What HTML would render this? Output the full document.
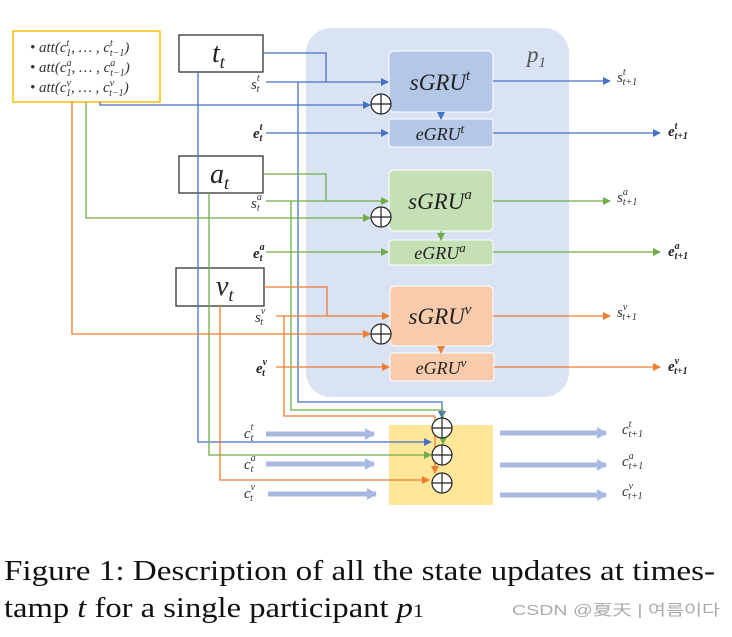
<!DOCTYPE html>
<html><head><meta charset="utf-8"><style>
html,body{margin:0;padding:0;background:#fff;}
svg{display:block}
.m{font-family:"Liberation Serif",serif;font-style:italic;}
.b{font-weight:bold}
</style></head><body>
<svg width="732" height="637" viewBox="0 0 732 637" xmlns="http://www.w3.org/2000/svg">
<defs>
<marker id="ab" markerWidth="8" markerHeight="8" refX="7" refY="4" orient="auto" markerUnits="userSpaceOnUse"><path d="M0,0 L8,4 L0,8z" fill="#4472c4"/></marker>
<marker id="ag" markerWidth="8" markerHeight="8" refX="7" refY="4" orient="auto" markerUnits="userSpaceOnUse"><path d="M0,0 L8,4 L0,8z" fill="#70ad47"/></marker>
<marker id="ao" markerWidth="8" markerHeight="8" refX="7" refY="4" orient="auto" markerUnits="userSpaceOnUse"><path d="M0,0 L8,4 L0,8z" fill="#ed7d31"/></marker>
<marker id="ac" markerWidth="10" markerHeight="12" refX="9" refY="6" orient="auto" markerUnits="userSpaceOnUse"><path d="M0,0 L10,6 L0,12z" fill="#a8b8e0"/></marker>
</defs>
<rect x="306" y="28" width="263" height="369" rx="25" fill="#dae3f3"/>
<text x="527" y="62" class="m" font-size="23" fill="#555">p<tspan font-size="15" dy="5">1</tspan></text>
<rect x="389" y="425" width="104" height="80" fill="#ffe699"/>
<rect x="389" y="51" width="104" height="61" rx="5" fill="#b4c7e7" stroke="#fff"/>
<rect x="389" y="119" width="104" height="28" rx="3" fill="#b4c7e7" stroke="#fff"/>
<rect x="389" y="170" width="104" height="61" rx="5" fill="#c5e0b4" stroke="#fff"/>
<rect x="389" y="240" width="104" height="25" rx="3" fill="#c5e0b4" stroke="#fff"/>
<rect x="390" y="286" width="103" height="60" rx="5" fill="#f8cbad" stroke="#fff"/>
<rect x="390" y="353" width="104" height="28" rx="3" fill="#f8cbad" stroke="#fff"/>
<g class="m" font-size="23" fill="#222" text-anchor="middle">
<text x="440" y="90">sGRU<tspan font-size="15" dy="-10">t</tspan></text>
<text x="440" y="209">sGRU<tspan font-size="15" dy="-10">a</tspan></text>
<text x="440" y="324">sGRU<tspan font-size="15" dy="-10">v</tspan></text>
</g>
<g class="m" font-size="18" fill="#222" text-anchor="middle">
<text x="440" y="140">eGRU<tspan font-size="13" dy="-7">t</tspan></text>
<text x="440" y="259">eGRU<tspan font-size="13" dy="-7">a</tspan></text>
<text x="441" y="374">eGRU<tspan font-size="13" dy="-7">v</tspan></text>
</g>
<rect x="13" y="31" width="147" height="71" fill="#fff" stroke="#ffc000" stroke-width="1.5"/>
<g class="m" font-size="15" fill="#333">
<text x="30" y="52">• att(c<tspan font-size="10" dy="-6">t</tspan><tspan font-size="10" dx="-3" dy="10">1</tspan><tspan dy="-4">, … , c</tspan><tspan font-size="10" dy="-6">t</tspan><tspan font-size="10" dx="-3" dy="10">t−1</tspan><tspan dy="-4">)</tspan></text>
<text x="30" y="72">• att(c<tspan font-size="10" dy="-6">a</tspan><tspan font-size="10" dx="-5" dy="10">1</tspan><tspan dy="-4">, … , c</tspan><tspan font-size="10" dy="-6">a</tspan><tspan font-size="10" dx="-5" dy="10">t−1</tspan><tspan dy="-4">)</tspan></text>
<text x="30" y="92">• att(c<tspan font-size="10" dy="-6">v</tspan><tspan font-size="10" dx="-5" dy="10">1</tspan><tspan dy="-4">, … , c</tspan><tspan font-size="10" dy="-6">v</tspan><tspan font-size="10" dx="-5" dy="10">t−1</tspan><tspan dy="-4">)</tspan></text>
</g>
<rect x="179" y="35" width="84" height="37" fill="#fff" stroke="#333" stroke-width="1.3"/>
<rect x="179" y="156" width="84" height="37" fill="#fff" stroke="#333" stroke-width="1.3"/>
<rect x="176" y="268" width="88" height="38" fill="#fff" stroke="#333" stroke-width="1.3"/>
<g class="m" font-size="28" fill="#222">
<text x="212" y="62">t<tspan font-size="18" dy="6">t</tspan></text>
<text x="210" y="183">a<tspan font-size="18" dy="6">t</tspan></text>
<text x="216" y="295">v<tspan font-size="18" dy="6">t</tspan></text>
</g>
<g fill="none" stroke="#4472c4" stroke-width="1.3">
<path d="M263,53 H326 V82 H388" marker-end="url(#ab)"/>
<path d="M266,82 H326"/>
<path d="M298,82 V402 H442 V418" marker-end="url(#ab)"/>
<path d="M100,102 V105 H370" marker-end="url(#ab)"/>
<path d="M266,133 H388" marker-end="url(#ab)"/>
<path d="M441,112 V119" marker-end="url(#ab)"/>
<path d="M493,81 H610" marker-end="url(#ab)"/>
<path d="M493,133 H660" marker-end="url(#ab)"/>
<path d="M198,72 V442 H431" marker-end="url(#ab)"/>
</g>
<g fill="none" stroke="#70ad47" stroke-width="1.3">
<path d="M263,174 H326 V201 H388" marker-end="url(#ag)"/>
<path d="M266,201 H326"/>
<path d="M291,201 V410 H443 V444" marker-end="url(#ag)"/>
<path d="M86,102 V218 H370" marker-end="url(#ag)"/>
<path d="M266,252 H388" marker-end="url(#ag)"/>
<path d="M441,231 V240" marker-end="url(#ag)"/>
<path d="M493,201 H610" marker-end="url(#ag)"/>
<path d="M493,252 H660" marker-end="url(#ag)"/>
<path d="M209,193 V455 H431" marker-end="url(#ag)"/>
</g>
<g fill="none" stroke="#ed7d31" stroke-width="1.3">
<path d="M264,287 H327 V316 H389" marker-end="url(#ao)"/>
<path d="M276,316 H327"/>
<path d="M284,316 V416 H435 V473" marker-end="url(#ao)"/>
<path d="M72,102 V334 H370" marker-end="url(#ao)"/>
<path d="M276,367 H389" marker-end="url(#ao)"/>
<path d="M441,346 V353" marker-end="url(#ao)"/>
<path d="M493,316 H610" marker-end="url(#ao)"/>
<path d="M494,367 H660" marker-end="url(#ao)"/>
<path d="M220,306 V480 H429" marker-end="url(#ao)"/>
</g>
<g fill="#fff" stroke="#222" stroke-width="1.2">
<circle cx="381" cy="104" r="10"/><path d="M371,104 H391 M381,94 V114"/>
<circle cx="381" cy="217" r="10"/><path d="M371,217 H391 M381,207 V227"/>
<circle cx="381" cy="334" r="10"/><path d="M371,334 H391 M381,324 V344"/>
<circle cx="442" cy="428" r="10"/><path d="M432,428 H452 M442,418 V438"/>
<circle cx="442" cy="455" r="10"/><path d="M432,455 H452 M442,445 V465"/>
<circle cx="442" cy="483" r="10"/><path d="M432,483 H452 M442,473 V493"/>
</g>
<g stroke="#a8b8e0" stroke-width="5" fill="none">
<path d="M266,434 H374" marker-end="url(#ac)"/>
<path d="M266,464 H374" marker-end="url(#ac)"/>
<path d="M268,494 H376" marker-end="url(#ac)"/>
<path d="M500,433 H606" marker-end="url(#ac)"/>
<path d="M500,465 H606" marker-end="url(#ac)"/>
<path d="M500,495 H606" marker-end="url(#ac)"/>
</g>
<g class="m" font-size="15" fill="#333">
<text x="251" y="89">s<tspan font-size="10" dy="-8">t</tspan><tspan font-size="10" dx="-3" dy="11">t</tspan></text>
<text x="251" y="208">s<tspan font-size="10" dy="-8">a</tspan><tspan font-size="10" dx="-5" dy="11">t</tspan></text>
<text x="255" y="322">s<tspan font-size="10" dy="-8">v</tspan><tspan font-size="10" dx="-5" dy="11">t</tspan></text>
<text x="244" y="438">c<tspan font-size="10" dy="-8">t</tspan><tspan font-size="10" dx="-3" dy="11">t</tspan></text>
<text x="244" y="469">c<tspan font-size="10" dy="-8">a</tspan><tspan font-size="10" dx="-5" dy="11">t</tspan></text>
<text x="244" y="498">c<tspan font-size="10" dy="-8">v</tspan><tspan font-size="10" dx="-5" dy="11">t</tspan></text>
<text x="617" y="82">s<tspan font-size="10" dy="-7">t</tspan><tspan font-size="10" dx="-3" dy="10">t+1</tspan></text>
<text x="617" y="202">s<tspan font-size="10" dy="-7">a</tspan><tspan font-size="10" dx="-5" dy="10">t+1</tspan></text>
<text x="617" y="317">s<tspan font-size="10" dy="-7">v</tspan><tspan font-size="10" dx="-5" dy="10">t+1</tspan></text>
<text x="622" y="434">c<tspan font-size="10" dy="-7">t</tspan><tspan font-size="10" dx="-3" dy="10">t+1</tspan></text>
<text x="622" y="466">c<tspan font-size="10" dy="-7">a</tspan><tspan font-size="10" dx="-5" dy="10">t+1</tspan></text>
<text x="622" y="496">c<tspan font-size="10" dy="-7">v</tspan><tspan font-size="10" dx="-5" dy="10">t+1</tspan></text>
</g>
<g class="m b" font-size="15" fill="#222">
<text x="253" y="138">e<tspan font-size="10" dy="-8">t</tspan><tspan font-size="10" dx="-3" dy="11">t</tspan></text>
<text x="253" y="258">e<tspan font-size="10" dy="-8">a</tspan><tspan font-size="10" dx="-5" dy="11">t</tspan></text>
<text x="256" y="373">e<tspan font-size="10" dy="-8">v</tspan><tspan font-size="10" dx="-5" dy="11">t</tspan></text>
<text x="668" y="136">e<tspan font-size="10" dy="-7">t</tspan><tspan font-size="10" dx="-3" dy="10">t+1</tspan></text>
<text x="668" y="256">e<tspan font-size="10" dy="-7">a</tspan><tspan font-size="10" dx="-5" dy="10">t+1</tspan></text>
<text x="668" y="371">e<tspan font-size="10" dy="-7">v</tspan><tspan font-size="10" dx="-5" dy="10">t+1</tspan></text>
</g>
<text x="4" y="580" font-family="Liberation Serif,serif" font-size="28" fill="#111" textLength="711" lengthAdjust="spacingAndGlyphs">Figure 1: Description of all the state updates at times-</text>
<text x="4" y="617" font-family="Liberation Serif,serif" font-size="28" fill="#111" textLength="420" lengthAdjust="spacingAndGlyphs">tamp <tspan font-style="italic">t</tspan> for a single participant <tspan font-style="italic">p</tspan><tspan font-size="19">1</tspan></text>
<text x="512" y="615" font-family="Liberation Sans,'Noto Sans CJK SC',sans-serif" font-size="15" fill="#aaa" textLength="208" lengthAdjust="spacingAndGlyphs">CSDN @夏天 | 여름이다</text>
</svg>
</body></html>
